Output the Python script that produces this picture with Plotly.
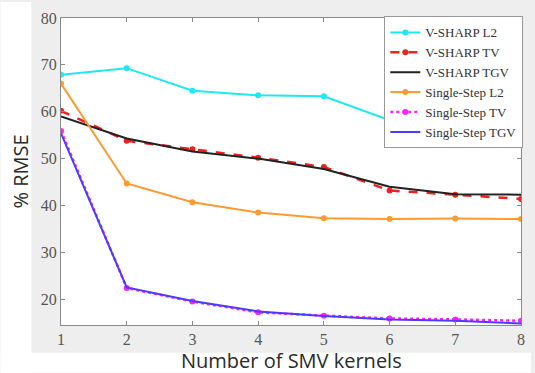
import plotly.graph_objects as go

kernels = [1, 2, 3, 4, 5, 6, 7, 8]
vsharp_l2 = [67.9, 69.3, 64.5, 63.5, 63.3, 58.2, 57.3, 58.2]
vsharp_tv = [60.2, 53.8, 52.0, 50.2, 48.2, 43.2, 42.3, 41.4]
vsharp_tgv = [59.0, 54.3, 51.5, 50.0, 47.8, 44.0, 42.4, 42.3]
ss_l2 = [66.0, 44.7, 40.7, 38.5, 37.3, 37.1, 37.2, 37.1]
ss_tv = [55.9, 22.4, 19.5, 17.2, 16.5, 15.9, 15.7, 15.4]
ss_tgv = [55.4, 22.5, 19.6, 17.4, 16.4, 15.7, 15.4, 14.8]

y_ticks = [20, 30, 40, 50, 60, 70, 80]

fig = go.Figure()
fig.add_trace(go.Scatter(x=kernels, y=vsharp_l2, name="V-SHARP L2", mode="lines+markers",
                         line=dict(color="#1ee8f2", width=2), marker=dict(size=6, color="#1ee8f2")))
fig.add_trace(go.Scatter(x=kernels, y=vsharp_tv, name="V-SHARP TV", mode="lines+markers",
                         line=dict(color="#f02020", width=2.5, dash="dash"), marker=dict(size=6, color="#f02020")))
fig.add_trace(go.Scatter(x=kernels, y=vsharp_tgv, name="V-SHARP TGV", mode="lines",
                         line=dict(color="#222222", width=2)))
fig.add_trace(go.Scatter(x=kernels, y=ss_l2, name="Single-Step L2", mode="lines+markers",
                         line=dict(color="#ff9a30", width=2), marker=dict(size=6, color="#ff9a30")))
fig.add_trace(go.Scatter(x=kernels, y=ss_tv, name="Single-Step TV", mode="lines+markers",
                         line=dict(color="#ff22ff", width=2.5, dash="dot"), marker=dict(size=6, color="#ff22ff")))
fig.add_trace(go.Scatter(x=kernels, y=ss_tgv, name="Single-Step TGV", mode="lines",
                         line=dict(color="#4a3cff", width=2)))

L, R, T, B = 61, 10, 16, 48
W, H = 535, 373
pw, ph = W - L - R, H - T - B

# white strips outside the grey figure panel (left and bottom)
fig.add_shape(type="rect", xref="paper", yref="paper", layer="below",
              x0=-L / pw, x1=(31 - L) / pw, y0=-B / ph, y1=(H - B) / ph,
              fillcolor="white", line=dict(width=0))
fig.add_shape(type="rect", xref="paper", yref="paper", layer="below",
              x0=-L / pw, x1=(W - L) / pw, y0=-B / ph, y1=-(353 - (H - B)) / ph,
              fillcolor="white", line=dict(width=0))

axis_common = dict(showline=True, linecolor="#8a8a8a", linewidth=1, mirror="ticks",
                   ticks="inside", ticklen=4, tickcolor="#8a8a8a", showgrid=False, zeroline=False,
                   tickfont=dict(family="Liberation Serif", size=16, color="#555555"))

fig.update_xaxes(range=[1, 8], tickvals=kernels, **axis_common)
fig.update_yaxes(range=[14.5, 80], tickvals=y_ticks, **axis_common)

fig.add_annotation(text="Number of SMV kernels", xref="paper", yref="paper", x=0.5, y=0,
                   yshift=-35, xanchor="center", yanchor="middle", showarrow=False,
                   font=dict(family="Open Sans", size=20, color="#2a2a2a"))
fig.add_annotation(text="% RMSE", xref="paper", yref="paper", x=0, y=0.5, xshift=-41,
                   textangle=-90, xanchor="center", yanchor="middle", showarrow=False,
                   font=dict(family="Open Sans", size=20, color="#2a2a2a"))

fig.update_layout(
    width=W, height=H, margin=dict(l=L, r=R, t=T, b=B),
    paper_bgcolor="#eeeeee", plot_bgcolor="white",
    legend=dict(x=1.005, y=1.005, xanchor="right", yanchor="top",
                bgcolor="white", bordercolor="#999999", borderwidth=1,
                font=dict(family="Liberation Serif", size=13, color="#333333"),
                tracegroupgap=0, itemwidth=30),
)

fig.write_html("out.html", config={"displayModeBar": False},
               post_script="document.body.style.margin='0';document.body.style.overflow='hidden';")
